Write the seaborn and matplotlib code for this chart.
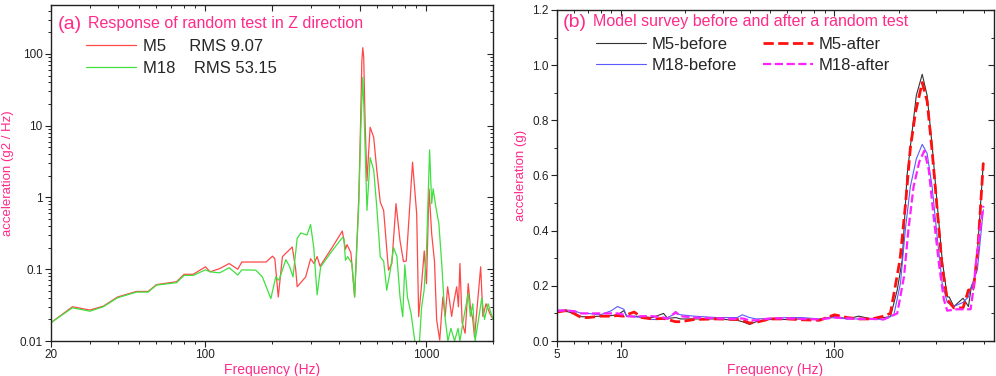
import numpy as np
import pandas as pd
import matplotlib
matplotlib.use("Agg")
import matplotlib.pyplot as plt
import seaborn as sns
from matplotlib.ticker import FixedLocator, FixedFormatter, LogLocator, NullFormatter, MultipleLocator

# ---------------- data: panel (a) ----------------
m5_freq = [20, 25, 30, 34.5, 40, 48.7, 55, 60, 74, 80, 88, 100, 105, 116, 128, 140, 146, 169, 188, 201,
           206, 213.5, 223, 247, 256, 260, 284, 299, 310, 320, 330, 374, 416, 430, 437, 455, 473, 494, 503, 510,
           515, 520, 528, 538, 556, 577, 596, 618, 640, 673, 697, 728, 759, 787, 810, 865, 903, 922, 951, 977,
           1000, 1027, 1056, 1087, 1112, 1148, 1186, 1215, 1247, 1300, 1330, 1370, 1395, 1417, 1450, 1496, 1545,
           1580, 1620, 1650, 1759, 1800, 1860, 1937, 2000]
m5_psd = [.018, .030, .027, .0306, .041, .049, .049, .061, .067, .085, .085, .108, .092, .102, .12, .1, .126, .126, .126, .152,
          .14, .041, .15, .204, .1, .057, .078, .14, .12, .15, .11, .2, .34, .19, .22, .17, .041, 1.0, 10, 80,
          122, 90, 10, 1.7, 9.5, 6.9, 2.4, .86, .66, .097, .12, .82, .25, .128, .13, 3.1, .59, .0218, .063, .18,
          .063, 1.32, .31, .128, .0196, .0103, .041, .022, .057, .022, .035, .057, .03, .12, .018, .0128, .063,
          .03, .02, .0113, .108, .022, .033, .024, .02]

m18_freq = [20, 25, 30, 34.5, 40, 48.7, 55, 60, 74, 80, 88, 100, 105, 116, 128, 140, 146, 169, 181, 197.6,
            208, 215, 231, 240, 249, 260, 270, 288, 299, 309, 320, 332, 374, 416, 423, 430, 440, 460, 473, 494,
            505, 515, 522, 530, 538, 556, 577, 596, 618, 640, 661, 686, 710, 735, 759, 781, 798, 820, 850, 890,
            930, 951, 975, 1000, 1033, 1056, 1072, 1100, 1138, 1175, 1210, 1250, 1290, 1340, 1390, 1417, 1470,
            1545, 1580, 1620, 1660, 1720, 1780, 1830, 1900, 2000]
m18_psd = [.018, .029, .026, .030, .040, .048, .048, .060, .065, .082, .082, .098, .092, .089, .105, .083, .098, .097, .078, .039,
           .078, .07, .136, .11, .078, .27, .32, .3, .42, .2, .044, .108, .18, .275, .27, .133, .15, .12, .041, .8,
           10, 47, 15, 3, .66, 3.6, 2.4, .73, .148, .13, .051, .097, .2, .15, .041, .0218, .115, .041, .025, .009,
           .01, .03, .05, .18, 4.6, .82, 1.32, .77, .43, .108, .023, .01, .015, .01, .015, .01, .02,
           .046, .022, .033, .01, .02, .04, .02, .033, .02]

# ---------------- data: panel (b) ----------------
base_freq = [5, 5.5, 6, 6.5, 7, 8, 9, 9.6, 10.3, 10.6, 11.5, 12.5, 14, 15.8, 16.5, 18, 19, 22, 28, 35,
             37, 40, 43, 50, 60, 70, 85, 100, 115, 130, 150, 170]

m5b_freq = base_freq + [183, 197, 208, 219, 229, 242, 258, 272, 287, 303, 320, 338, 345, 363, 401, 425, 440, 448, 470, 499]
m5b_acc = [.11, .108, .1, .088, .088, .09, .092, .095, .11, .09, .09, .088, .085, .1, .082, .085, .08, .08, .08, .075,
           .07, .06, .07, .078, .078, .08, .078, .09, .08, .09, .08, .085,
           .088, .185, .295, .6, .73, .89, .967, .89, .71, .5, .295, .16, .16, .125, .155, .125, .204, .185, .343, .646]

m5a_freq = base_freq + [183, 203, 215, 227, 240, 258, 272, 287, 303, 320, 338, 363, 401, 425, 440, 448, 470, 499]
m5a_acc = [.105, .11, .1, .085, .085, .09, .09, .092, .09, .095, .105, .085, .08, .082, .078, .07, .07, .078, .08, .078,
           .075, .065, .068, .08, .08, .077, .075, .095, .085, .08, .08, .09,
           .1, .295, .49, .7, .83, .937, .87, .69, .48, .27, .15, .12, .12, .185, .185, .185, .33, .646]

m18b_freq = base_freq + [190, 204, 215, 227, 242, 258, 272, 287, 303, 320, 338, 363, 401, 425, 435, 468, 499]
m18b_acc = [.112, .112, .11, .1, .1, .095, .11, .125, .115, .09, .088, .085, .078, .078, .085, .1, .095, .09, .085, .085,
            .095, .085, .08, .082, .085, .085, .08, .085, .08, .08, .08, .078,
            .095, .21, .404, .56, .66, .713, .68, .56, .38, .21, .14, .125, .14, .16, .19, .258, .476]

m18a_freq = base_freq + [197, 212, 222, 235, 250, 264, 277, 292, 309, 326, 338, 375, 435, 448, 465, 499]
m18a_acc = [.11, .11, .108, .1, .1, .1, .1, .1, .095, .09, .088, .09, .09, .085, .08, .105, .09, .085, .082, .08,
            .082, .075, .075, .082, .082, .08, .078, .085, .082, .08, .08, .078,
            .1, .234, .40, .56, .65, .69, .62, .45, .28, .15, .11, .115, .115, .185, .31, .49]

a_xticks = [20, 100, 1000]
a_yticks = [0.01, 0.1, 1, 10, 100]
a_yticklabels = ["0.01", "0.1", "1", "10", "100"]
b_xticks = [5, 10, 100]
b_yticks = [0.0, 0.2, 0.4, 0.6, 0.8, 1.0, 1.2]

# ---------------- styling ----------------
sns.set_style("ticks")
plt.rcParams["font.family"] = ["Liberation Sans", "DejaVu Sans"]
PINK = "#ff2a8a"

fig = plt.figure(figsize=(9.96, 3.76), dpi=100)
axA = fig.add_axes([51/996, 35/376, 442/996, 336/376])
axB = fig.add_axes([557/996, 35/376, 437/996, 331/376])

# ---------- panel (a) ----------
dfa5 = pd.DataFrame({"f": m5_freq, "v": m5_psd})
dfa18 = pd.DataFrame({"f": m18_freq, "v": m18_psd})
sns.lineplot(data=dfa5, x="f", y="v", ax=axA, color="#ff4848", lw=0.9, estimator=None, sort=False,
             label="M5     RMS 9.07")
sns.lineplot(data=dfa18, x="f", y="v", ax=axA, color="#40e040", lw=0.9, estimator=None, sort=False,
             label="M18    RMS 53.15")
axA.set_xscale("log")
axA.set_yscale("log")
axA.set_xlim(20, 2000)
axA.set_ylim(0.01, 480)
axA.xaxis.set_major_locator(FixedLocator(a_xticks))
axA.xaxis.set_major_formatter(FixedFormatter([str(t) for t in a_xticks]))
axA.xaxis.set_minor_locator(LogLocator(base=10, subs=np.arange(2, 10), numticks=20))
axA.xaxis.set_minor_formatter(NullFormatter())
axA.yaxis.set_major_locator(FixedLocator(a_yticks))
axA.yaxis.set_major_formatter(FixedFormatter(a_yticklabels))
axA.yaxis.set_minor_locator(LogLocator(base=10, subs=np.arange(2, 10), numticks=20))
axA.yaxis.set_minor_formatter(NullFormatter())
axA.set_xlabel("Frequency (Hz)", color=PINK, fontsize=10, labelpad=1)
axA.set_ylabel("acceleration (g2 / Hz)", color=PINK, fontsize=9.5, labelpad=4)
axA.text(0.016, 0.943, "(a)", transform=axA.transAxes, color=PINK, fontsize=14, va="center", ha="left")
axA.text(0.083, 0.946, "Response of random test in Z direction", transform=axA.transAxes, color=PINK,
         fontsize=11.5, va="center", ha="left")
axA.legend(loc="upper left", bbox_to_anchor=(0.065, 0.92), frameon=False, fontsize=12,
           handlelength=3.0, handletextpad=0.4, labelspacing=0.45, borderaxespad=0)

# ---------- panel (b) ----------
series_b = [
    (m5b_freq, m5b_acc, "M5-before", "#333333", "-", 0.8),
    (m18b_freq, m18b_acc, "M18-before", "#5a5aff", "-", 0.8),
    (m5a_freq, m5a_acc, "M5-after", "#ff1010", "--", 2.0),
    (m18a_freq, m18a_acc, "M18-after", "#ff22ff", "--", 1.6),
]
for fr, ac, lab, col, ls, lw in series_b:
    d = pd.DataFrame({"f": fr, "v": ac})
    kw = dict(dashes=(3.5, 2.2)) if ls == "--" else {}
    sns.lineplot(data=d, x="f", y="v", ax=axB, color=col, lw=lw, linestyle=ls, estimator=None,
                 sort=False, label=lab, **kw)
axB.set_xscale("log")
axB.set_xlim(5, 560)
axB.set_ylim(0, 1.2)
axB.xaxis.set_major_locator(FixedLocator(b_xticks))
axB.xaxis.set_major_formatter(FixedFormatter([str(t) for t in b_xticks]))
axB.xaxis.set_minor_locator(LogLocator(base=10, subs=np.arange(2, 10), numticks=20))
axB.xaxis.set_minor_formatter(NullFormatter())
axB.yaxis.set_major_locator(FixedLocator(b_yticks))
axB.yaxis.set_major_formatter(FixedFormatter([f"{t:.1f}" for t in b_yticks]))
axB.yaxis.set_minor_locator(MultipleLocator(0.1))
axB.set_xlabel("Frequency (Hz)", color=PINK, fontsize=10, labelpad=1)
axB.set_ylabel("acceleration (g)", color=PINK, fontsize=9.5, labelpad=4)
axB.text(0.014, 0.962, "(b)", transform=axB.transAxes, color=PINK, fontsize=14, va="center", ha="left")
axB.text(0.083, 0.966, "Model survey before and after a random test", transform=axB.transAxes, color=PINK,
         fontsize=11.5, va="center", ha="left")
axB.legend(loc="upper left", bbox_to_anchor=(0.075, 0.94), frameon=False, fontsize=12, ncol=2,
           handlelength=3.0, handletextpad=0.3, labelspacing=0.4, columnspacing=1.6, borderaxespad=0)

# ---------- axes frames / ticks ----------
for ax in (axA, axB):
    for s in ax.spines.values():
        s.set_visible(True)
        s.set_color("#222222")
        s.set_linewidth(1.0)
    ax.tick_params(which="major", direction="out", length=4, width=0.8, labelsize=8.5, colors="#222222", pad=2)
    ax.tick_params(which="minor", direction="out", length=2.2, width=0.7, colors="#222222")
    sx = ax.secondary_xaxis("top")
    sx.tick_params(which="major", direction="in", length=4, width=0.8, labeltop=False)
    sx.tick_params(which="minor", direction="in", length=2.2, width=0.7)
    sx.xaxis.set_major_formatter(NullFormatter())
    sy = ax.secondary_yaxis("right")
    sy.tick_params(which="major", direction="in", length=4, width=0.8, labelright=False)
    sy.tick_params(which="minor", direction="in", length=2.2, width=0.7)
    sy.yaxis.set_major_formatter(NullFormatter())
    if ax is axA:
        sx.xaxis.set_major_locator(FixedLocator(a_xticks + [200, 500]))
        sx.xaxis.set_minor_locator(LogLocator(base=10, subs=np.arange(2, 10), numticks=20))
        sy.yaxis.set_major_locator(FixedLocator(a_yticks))
        sy.yaxis.set_minor_locator(LogLocator(base=10, subs=np.arange(2, 10), numticks=20))
    else:
        sx.xaxis.set_major_locator(FixedLocator(b_xticks))
        sx.xaxis.set_minor_locator(LogLocator(base=10, subs=np.arange(2, 10), numticks=20))
        sy.yaxis.set_major_locator(FixedLocator(b_yticks))
        sy.yaxis.set_minor_locator(MultipleLocator(0.1))
    for sp in list(sx.spines.values()) + list(sy.spines.values()):
        sp.set_visible(False)

fig.savefig("out.png", dpi=100)
